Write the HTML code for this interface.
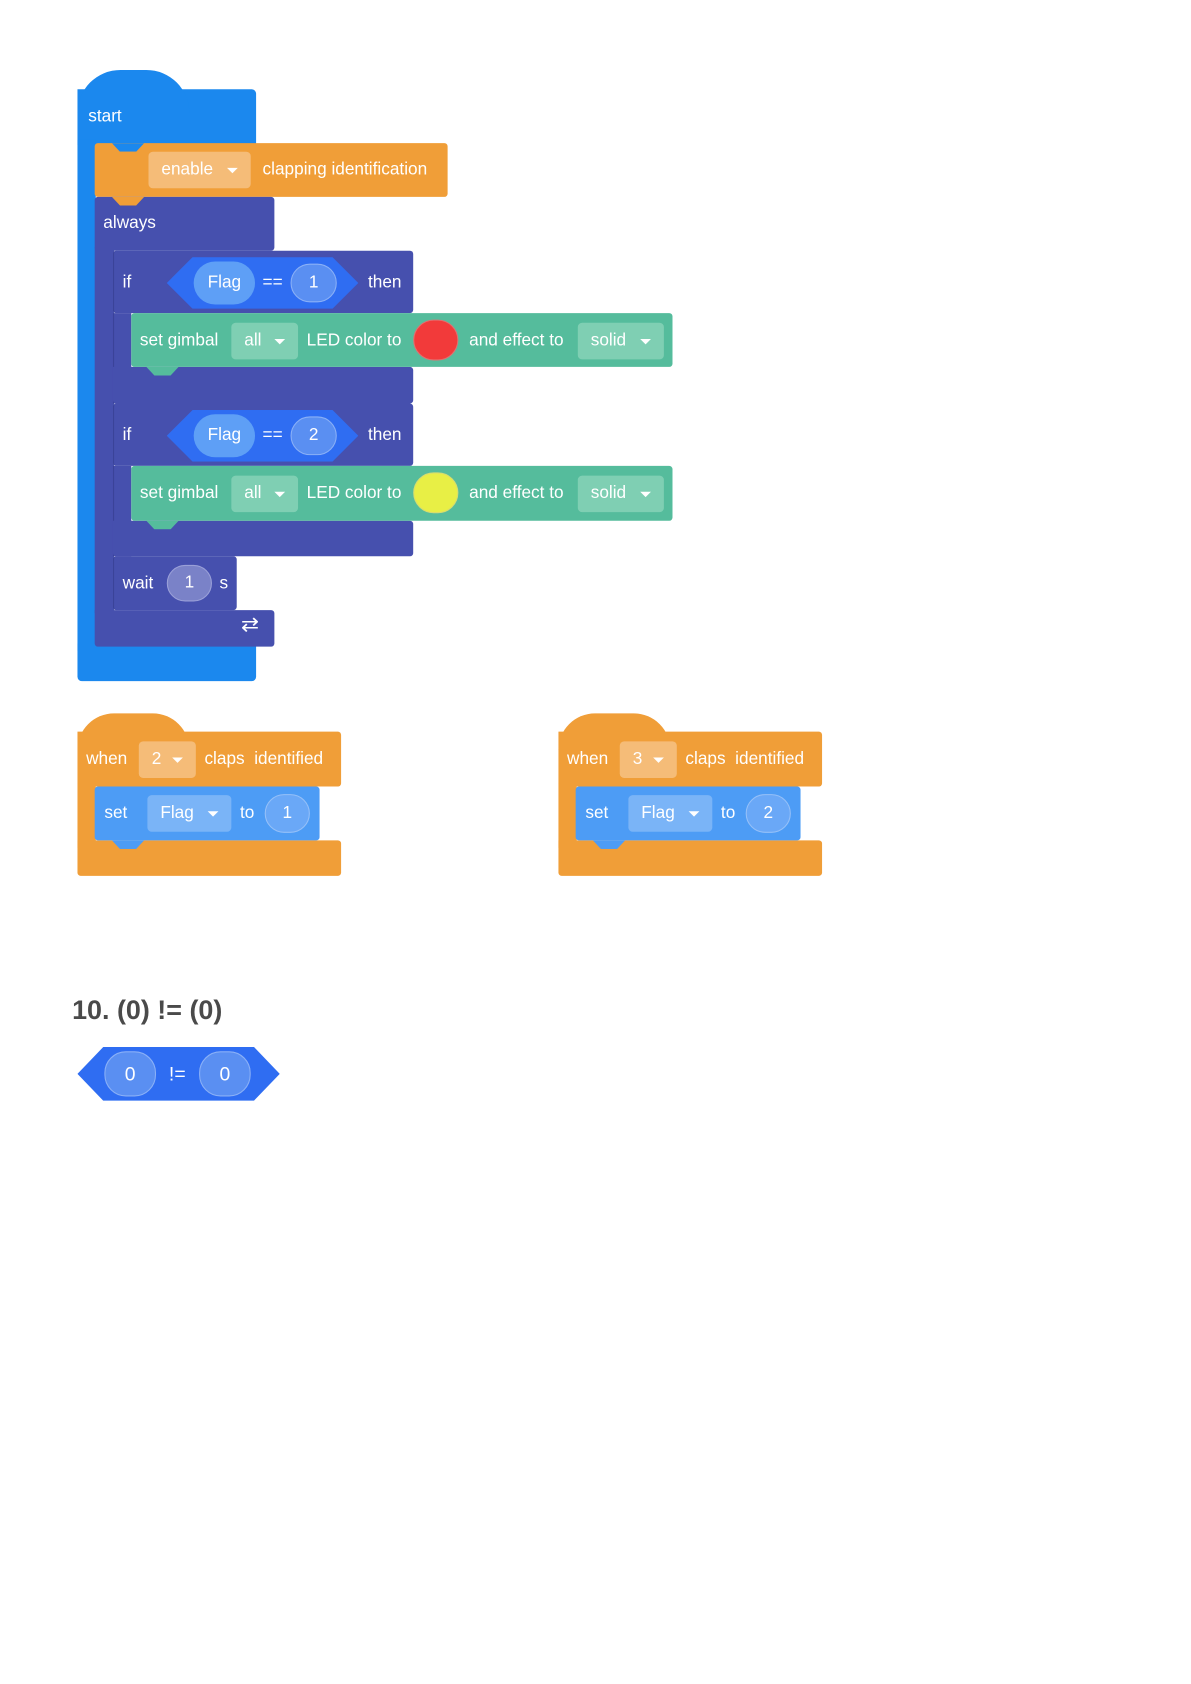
<!DOCTYPE html>
<html><head><meta charset="utf-8"><style>
html,body{margin:0;padding:0;background:#fff;width:1191px;height:1684px;overflow:hidden}
#s{position:absolute;left:0;top:0;width:1100px;height:1556px;transform:scale(1.076);transform-origin:0 0;font-family:"Liberation Sans",sans-serif;font-size:16px;color:#fff}
.a{position:absolute;box-sizing:border-box}
.t{position:absolute;line-height:20px;white-space:nowrap}
.dd{position:absolute;border-radius:4px;box-sizing:border-box;line-height:34px;padding-left:12px;white-space:nowrap}
.dd:after{content:"";position:absolute;right:12px;top:15px;border:5px solid transparent;border-top:5px solid #fff;border-bottom:0}
.pill{position:absolute;border-radius:20px;box-sizing:border-box;text-align:center;white-space:nowrap}
.notch{position:absolute;width:30px;height:8px}
</style></head><body><div id="s">
<!-- start hat -->
<div class="a" style="left:72px;top:83px;width:166px;height:52px;background:#1b88ee;border-radius:0 4px 0 0"></div>
<div class="a" style="left:72px;top:130px;width:17px;height:475px;background:#1b88ee"></div>
<div class="a" style="left:72px;top:598px;width:166px;height:35px;background:#1b88ee;border-radius:0 0 4px 4px"></div>
<div class="a" style="left:72px;top:65px;width:104px;height:40px;background:#1b88ee;border-radius:52px 52px 0 0"></div>
<div class="t" style="left:82px;top:99px">start</div>

<!-- enable -->
<div class="a" style="left:88px;top:133px;width:328px;height:50px;background:#f09e38;border-radius:3px"></div>
<div class="notch" style="left:104px;top:133px;background:#1b88ee;clip-path:polygon(0 0,100% 0,75% 100%,25% 100%)"></div>
<div class="dd" style="left:138px;top:141px;width:95px;height:34px;background:#f5bc78;color:#fff">enable</div>
<div class="t" style="left:244px;top:148px">clapping identification</div>

<!-- always -->
<div class="a" style="left:88px;top:183px;width:167px;height:50px;background:#4650ae;border-radius:3px"></div>
<div class="notch" style="left:104px;top:183px;background:#f09e38;clip-path:polygon(0 0,100% 0,75% 100%,25% 100%)"></div>
<div class="t" style="left:96px;top:198px">always</div>
<div class="a" style="left:88px;top:230px;width:18px;height:340px;background:#4650ae"></div>
<div class="a" style="left:88px;top:567px;width:167px;height:34px;background:#4650ae;border-radius:0 3px 3px 3px"></div>
<div class="t" style="left:224px;top:571px;font-size:20px">⇄</div>

<!-- if 1 -->
<div class="a" style="left:105px;top:233px;width:279px;height:58px;background:#4650ae;border-radius:3px;border-left:1px solid #3a4399"></div>
<div class="a" style="left:105px;top:291px;width:17px;height:84px;background:#4650ae;border-left:1px solid #3a4399"></div>
<div class="a" style="left:105px;top:341px;width:279px;height:34px;background:#4650ae;border-radius:0 3px 3px 3px"></div>
<div class="t" style="left:114px;top:253px">if</div>
<svg class="a" style="left:155px;top:239px" width="178" height="48"><polygon points="24,0 154,0 178,24 154,48 24,48 0,24" fill="#2f6df2"/></svg>
<div class="pill" style="left:180px;top:243px;width:57px;height:40px;background:#5e9ff6;line-height:40px">Flag</div>
<div class="t" style="left:244px;top:253px">==</div>
<div class="pill" style="left:270px;top:245px;width:43px;height:36px;background:#5a8ff2;border:1px solid #8ab0f7;line-height:34px">1</div>
<div class="t" style="left:342px;top:253px">then</div>
<div class="a" style="left:122px;top:291px;width:503px;height:50px;background:#55bc9c;border-radius:3px"></div>
<div class="notch" style="left:136px;top:341px;background:#55bc9c;clip-path:polygon(0 0,100% 0,75% 100%,25% 100%)"></div>
<div class="t" style="left:130px;top:307px">set gimbal</div>
<div class="dd" style="left:215px;top:300px;width:62px;height:34px;background:#7fcfb3">all</div>
<div class="t" style="left:285px;top:307px">LED color to</div>
<div class="pill" style="left:384px;top:297px;width:42px;height:38px;background:#f23a3a;border:1px solid #e07070"></div>
<div class="t" style="left:436px;top:307px">and effect to</div>
<div class="dd" style="left:537px;top:300px;width:80px;height:34px;background:#7fcfb3">solid</div>

<!-- if 2 -->
<div class="a" style="left:105px;top:375px;width:279px;height:58px;background:#4650ae;border-radius:3px;border-left:1px solid #3a4399"></div>
<div class="a" style="left:105px;top:433px;width:17px;height:84px;background:#4650ae;border-left:1px solid #3a4399"></div>
<div class="a" style="left:105px;top:484px;width:279px;height:33px;background:#4650ae;border-radius:0 3px 3px 3px"></div>
<div class="t" style="left:114px;top:395px">if</div>
<svg class="a" style="left:155px;top:381px" width="178" height="48"><polygon points="24,0 154,0 178,24 154,48 24,48 0,24" fill="#2f6df2"/></svg>
<div class="pill" style="left:180px;top:385px;width:57px;height:40px;background:#5e9ff6;line-height:40px">Flag</div>
<div class="t" style="left:244px;top:395px">==</div>
<div class="pill" style="left:270px;top:387px;width:43px;height:36px;background:#5a8ff2;border:1px solid #8ab0f7;line-height:34px">2</div>
<div class="t" style="left:342px;top:395px">then</div>
<div class="a" style="left:122px;top:433px;width:503px;height:51px;background:#55bc9c;border-radius:3px"></div>
<div class="notch" style="left:136px;top:484px;background:#55bc9c;clip-path:polygon(0 0,100% 0,75% 100%,25% 100%)"></div>
<div class="t" style="left:130px;top:449px">set gimbal</div>
<div class="dd" style="left:215px;top:442px;width:62px;height:34px;background:#7fcfb3">all</div>
<div class="t" style="left:285px;top:449px">LED color to</div>
<div class="pill" style="left:384px;top:439px;width:42px;height:38px;background:#e8ef45;border:1px solid #d6dc70"></div>
<div class="t" style="left:436px;top:449px">and effect to</div>
<div class="dd" style="left:537px;top:442px;width:80px;height:34px;background:#7fcfb3">solid</div>

<!-- wait -->
<div class="a" style="left:105px;top:517px;width:115px;height:50px;background:#4650ae;border-radius:3px;border-left:1px solid #3a4399"></div>
<div class="t" style="left:114px;top:533px">wait</div>
<div class="pill" style="left:155px;top:525px;width:42px;height:34px;background:#7a82c8;border:1px solid #9aa0d8;line-height:32px">1</div>
<div class="t" style="left:204px;top:533px">s</div>

<!-- when 2 -->
<div class="a" style="left:72px;top:680px;width:245px;height:51px;background:#f09e38;border-radius:0 3px 3px 3px"></div>
<div class="a" style="left:72px;top:663px;width:104px;height:34px;background:#f09e38;border-radius:52px 52px 0 0"></div>
<div class="a" style="left:72px;top:728px;width:17px;height:60px;background:#f09e38"></div>
<div class="a" style="left:72px;top:781px;width:245px;height:33px;background:#f09e38;border-radius:0 3px 3px 3px"></div>
<div class="t" style="left:80px;top:696px">when</div>
<div class="dd" style="left:129px;top:689px;width:53px;height:34px;background:#f5bc78">2</div>
<div class="t" style="left:190px;top:696px">claps &nbsp;identified</div>
<div class="a" style="left:88px;top:731px;width:209px;height:50px;background:#4d9cf5;border-radius:3px"></div>
<div class="notch" style="left:104px;top:781px;background:#4d9cf5;clip-path:polygon(0 0,100% 0,75% 100%,25% 100%)"></div>
<div class="t" style="left:97px;top:746px">set</div>
<div class="dd" style="left:137px;top:739px;width:78px;height:34px;background:#7ab4f7">Flag</div>
<div class="t" style="left:223px;top:746px">to</div>
<div class="pill" style="left:246px;top:738px;width:42px;height:36px;background:#6aa8f7;border:1px solid #95c0f8;line-height:34px">1</div>

<!-- when 3 -->
<div class="a" style="left:519px;top:680px;width:245px;height:51px;background:#f09e38;border-radius:0 3px 3px 3px"></div>
<div class="a" style="left:519px;top:663px;width:104px;height:34px;background:#f09e38;border-radius:52px 52px 0 0"></div>
<div class="a" style="left:519px;top:728px;width:17px;height:60px;background:#f09e38"></div>
<div class="a" style="left:519px;top:781px;width:245px;height:33px;background:#f09e38;border-radius:0 3px 3px 3px"></div>
<div class="t" style="left:527px;top:696px">when</div>
<div class="dd" style="left:576px;top:689px;width:53px;height:34px;background:#f5bc78">3</div>
<div class="t" style="left:637px;top:696px">claps &nbsp;identified</div>
<div class="a" style="left:535px;top:731px;width:209px;height:50px;background:#4d9cf5;border-radius:3px"></div>
<div class="notch" style="left:551px;top:781px;background:#4d9cf5;clip-path:polygon(0 0,100% 0,75% 100%,25% 100%)"></div>
<div class="t" style="left:544px;top:746px">set</div>
<div class="dd" style="left:584px;top:739px;width:78px;height:34px;background:#7ab4f7">Flag</div>
<div class="t" style="left:670px;top:746px">to</div>
<div class="pill" style="left:693px;top:738px;width:42px;height:36px;background:#6aa8f7;border:1px solid #95c0f8;line-height:34px">2</div>

<!-- heading -->
<div class="t" style="left:67px;top:924px;font-size:25px;line-height:30px;color:#4a4a4a;font-weight:bold;font-family:'Liberation Sans',sans-serif">10. (0) != (0)</div>
<svg class="a" style="left:72px;top:973px" width="188" height="50"><polygon points="24,0 164,0 188,25 164,50 24,50 0,25" fill="#2f6df2"/></svg>
<div class="pill" style="left:97px;top:977px;width:48px;height:42px;background:#5a8ff2;border:1px solid #8ab0f7;line-height:40px;font-size:18px">0</div>
<div class="t" style="left:157px;top:988px;font-size:18px">!=</div>
<div class="pill" style="left:185px;top:977px;width:48px;height:42px;background:#5a8ff2;border:1px solid #8ab0f7;line-height:40px;font-size:18px">0</div>
</div></body></html>
